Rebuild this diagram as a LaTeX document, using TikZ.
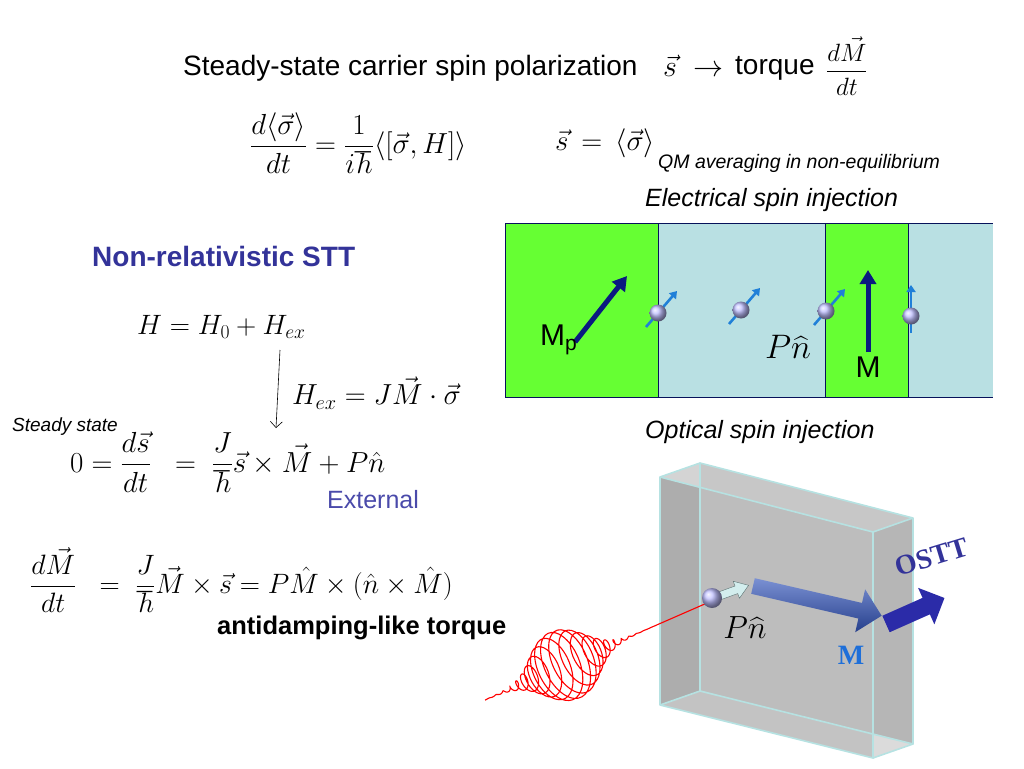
\RequirePackage{fix-cm}
\documentclass[tikz,border=0pt]{standalone}
\usepackage{fontspec}
\setmainfont{Liberation Sans}
\newfontfamily\seriff{Liberation Serif}
\usepackage{amsmath}
\usetikzlibrary{arrows.meta}
\definecolor{grn}{HTML}{66FF33}
\definecolor{lbl}{HTML}{B9E0E3}
\definecolor{navy}{HTML}{0A1A80}
\definecolor{spinb}{HTML}{2080D8}
\definecolor{stt}{HTML}{333399}
\definecolor{ext}{HTML}{4A4AAA}
\definecolor{slab}{HTML}{BDBDBD}
\definecolor{slabE}{HTML}{B6E2E2}
\definecolor{mblue}{HTML}{1E6FD9}
\definecolor{arrb}{HTML}{3355BB}
\tikzset{
 txt/.style={anchor=west,inner sep=0pt},
 eq/.style={anchor=west,inner sep=0pt,font=\fontsize{29}{34}\selectfont},
 elec/.style={circle,minimum size=17pt,inner sep=0pt,ball color=blue!25,draw=none},
 spinar/.style={spinb,line width=2.6pt,-{Triangle[length=7pt,width=9pt]}},
 bigar/.style={navy,line width=5pt,-{Triangle[length=14pt,width=16pt]}}
}
% fat arrow: length, shaft half width, head half width, head length
\newcommand{\fatarrow}[4]{(0,-#2) -- ({#1-#4},-#2) -- ({#1-#4},-#3) -- (#1,0) -- ({#1-#4},#3) -- ({#1-#4},#2) -- (0,#2) -- cycle}
\begin{document}
\begin{tikzpicture}[x=1pt,y=-1pt]
\useasboundingbox (0,0) rectangle (1024,768);
% title
\node[txt,font=\fontsize{28}{30}\selectfont] (title) at (183,68) {Steady-state carrier spin polarization};
\node[txt,font=\fontsize{30}{32}\selectfont] (sv) at (663,66) {$\vec{s}\;\rightarrow$};
\node[txt,font=\fontsize{28}{30}\selectfont] (torque) at (735,68) {torque};
\node[txt,font=\fontsize{25}{28}\selectfont] (dmdt) at (826,66) {$\dfrac{d\vec{M}}{dt}$};
% eq1
\node[eq] (e1) at (250,143) {$\dfrac{d\langle\vec\sigma\rangle}{dt}=\dfrac{1}{i\hbar}\langle[\vec\sigma,H]\rangle$};
\node[eq] (e2) at (555,143) {$\vec s\,=\,\langle\vec\sigma\rangle$};
\node[txt,font=\fontsize{19.5}{22}\selectfont\itshape] (qm) at (658,163) {QM averaging in non-equilibrium};
\node[txt,font=\fontsize{25}{28}\selectfont\itshape] (esi) at (645,200) {Electrical spin injection};
% box
\fill[grn] (505,223) rectangle (658,397);
\fill[lbl] (658,223) rectangle (825,397);
\fill[grn] (825,223) rectangle (908,397);
\fill[lbl] (908,223) rectangle (993,397);
\draw[navy!70!black,line width=1pt] (505,223) -- (993,223) (505,397) -- (993,397) (505,223) -- (505,397) (658,223) -- (658,397) (825,223) -- (825,397) (908,223) -- (908,397);
\coordinate (mp1) at (575,342); \coordinate (mp2) at (627,276);
\draw[bigar] (mp1) -- (mp2);
\coordinate (m1) at (868,352); \coordinate (m2) at (868,270);
\draw[bigar] (m1) -- (m2);
\node[txt,font=\fontsize{30}{32}\selectfont] (mp) at (540,340) {M\textsubscript{p}};
\node[font=\fontsize{30}{32}\selectfont,inner sep=0pt] (mlab) at (868,367) {M};
\node[font=\fontsize{34}{36}\selectfont,inner sep=0pt] (pn1) at (788,347) {$P\widehat{n}$};
\foreach \n/\x/\y in {a/658/313,b/741/310,c/826/311} {
 \coordinate (\n s) at (\x-12,\y+14); \coordinate (\n t) at (\x+19,\y-22);
 \draw[spinar] (\n s) -- (\n t);
 \node[elec] (\n) at (\x,\y) {};
}
\coordinate (ds) at (911,333); \coordinate (dt) at (911,285);
\draw[spinar] (ds) -- (dt);
\node[elec] (d) at (911,316) {};
% left equations
\node[txt,font=\fontsize{28}{30}\selectfont\bfseries,text=stt] (nr) at (92,256) {Non-relativistic STT};
\node[eq,font=\fontsize{28}{32}\selectfont] (h) at (137,327) {$H=H_0+H_{ex}$};
\coordinate (ar1) at (280,350); \coordinate (ar2) at (276,428);
\draw[-{Straight Barb[length=6pt]},line width=0.6pt] (ar1) -- (ar2);
\node[eq] (hex) at (292,393) {$H_{ex}=J\vec M\cdot\vec\sigma$};
\node[txt,font=\fontsize{19}{22}\selectfont\itshape] (ss) at (12,427) {Steady state};
\node[eq] (e3) at (70,462) {$0=\dfrac{d\vec s}{dt}\;\;=\;\dfrac{J}{\hbar}\vec s\times\vec M+P\hat n$};
\node[txt,font=\fontsize{25}{28}\selectfont,text=ext] (ex) at (327,500) {External};
\node[eq,font=\fontsize{28}{32}\selectfont] (e4) at (30,580) {$\dfrac{d\vec M}{dt}\;\;=\;\dfrac{J}{\hbar}\vec M\times\vec s=P\hat M\times(\hat n\times\hat M)$};
\node[txt,font=\fontsize{25.5}{28}\selectfont\bfseries] (adl) at (217,628) {antidamping-like torque};
\node[txt,font=\fontsize{25}{28}\selectfont\itshape] (osi) at (645,432) {Optical spin injection};
% slab
\fill[slab!85!white] (700,463) -- (913,518) -- (913,744) -- (700,691) -- cycle;
\fill[slab,opacity=0.9] (660,477) -- (873,532) -- (873,758) -- (660,705) -- cycle;
\fill[slab!70!black,opacity=0.35] (660,477) -- (700,463) -- (700,691) -- (660,705) -- cycle;
\fill[slab!80!black,opacity=0.35] (873,532) -- (913,518) -- (913,744) -- (873,758) -- cycle;
\begin{scope}[slabE,line width=1.6pt,line join=round]
\draw (700,463) -- (913,518) -- (913,744) -- (700,691) -- cycle;
\draw (660,477) -- (873,532) -- (873,758) -- (660,705) -- cycle;
\draw (660,477) -- (700,463) (873,532) -- (913,518) (873,758) -- (913,744) (660,705) -- (700,691);
\end{scope}
% laser
\draw[red,line width=1.1pt,smooth] plot[domain=0:1,samples=1000,variable=\t]
 ({485+222*\t+36*exp(-((\t-0.36)/0.15)^2)*(0.402*cos(10800*\t)+0.55*0.916*sin(10800*\t))},
  {700-97*\t+36*exp(-((\t-0.36)/0.15)^2)*(0.916*cos(10800*\t)-0.55*0.402*sin(10800*\t))});
% spin and arrows
\fill[slabE!60!white,draw=slabE!50!black,line width=0.4pt,shift={(711,599)},rotate=20] \fatarrow{40}{4}{9}{13};
\node[elec,minimum size=20pt] (e) at (712,598) {};
\shade[top color=arrb!65!white,bottom color=arrb!75!black,shift={(753,586)},rotate=-13] \fatarrow{132}{8}{22}{22};
\fill[stt!85!blue,shift={(886,624)},rotate=24] \fatarrow{64}{9}{20}{20};
\node[font=\fontsize{28}{28}\selectfont\bfseries\seriff,text=stt,rotate=17,inner sep=0pt] (osttl) at (932,557) {OSTT};
\node[font=\fontsize{32}{34}\selectfont,inner sep=0pt] (pn2) at (745,628) {$P\widehat{n}$};
\node[font=\fontsize{28}{28}\selectfont\bfseries\seriff,text=mblue,inner sep=0pt] (mlab2) at (851,655) {M};
\end{tikzpicture}
\end{document}
